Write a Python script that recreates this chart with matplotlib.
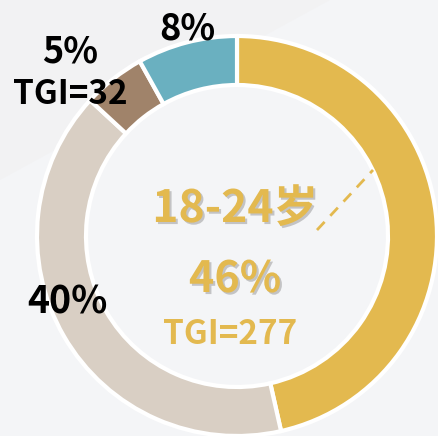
import matplotlib.pyplot as plt
import matplotlib.patheffects as pe
from matplotlib.patches import Polygon

plt.rcParams['font.family'] = ['Noto Sans CJK SC', 'DejaVu Sans']

# data
age_groups = ['18-24岁', '25-34岁', '35-44岁', '45岁以上']
shares = [46, 40, 5, 8]
share_labels = ['46%', '40%', '5%', '8%']
tgi_labels = ['TGI=277', '', 'TGI=32', '']

# colours
COLORS = ['#E3B94F', '#D9CFC4', '#A0836A', '#6AB0C0']
GOLD = '#E3B94F'
BG = '#F4F5F7'

W, H = 439, 436
fig = plt.figure(figsize=(W / 100, H / 100), dpi=100)
fig.patch.set_facecolor(BG)
ax = fig.add_axes([0, 0, 1, 1])
ax.set_xlim(0, W)
ax.set_ylim(0, H)
ax.set_aspect('equal')
ax.axis('off')


def py(y):
    # picture rows are counted from the top
    return H - y


# faint darker band in the top left corner
ax.add_patch(Polygon([(0, py(0)), (330, py(0)), (0, py(180))],
                     closed=True, facecolor='#F2F2F3', edgecolor='none', zorder=0))

cx, cy = 237, py(236)
wedges, _ = ax.pie(shares, colors=COLORS, startangle=90, counterclock=False,
                   radius=200, center=(cx, cy), frame=True,
                   wedgeprops=dict(width=49, edgecolor='white', linewidth=3))
ax.set_xlim(0, W)
ax.set_ylim(0, H)
ax.axis('off')

# dashed leader from the gold ring
ax.plot([317, 373], [py(230), py(170)], color=GOLD, lw=2, ls=(0, (4, 3)))

shadow = [pe.withSimplePatchShadow(offset=(1.5, -1.5), shadow_rgbFace='#888888', alpha=0.45)]

ax.text(235, py(209), age_groups[0], color=GOLD, fontsize=32, fontweight='bold',
        ha='center', va='center', path_effects=shadow)
ax.text(235, py(279), share_labels[0], color=GOLD, fontsize=31, fontweight='bold',
        ha='center', va='center', path_effects=shadow)
ax.text(230, py(334), tgi_labels[0], color=GOLD, fontsize=24, fontweight='bold',
        ha='center', va='center')

ax.text(187, py(29), share_labels[3], color='black', fontsize=26, fontweight='bold',
        ha='center', va='center')
ax.text(70, py(52), share_labels[2], color='black', fontsize=26, fontweight='bold',
        ha='center', va='center')
ax.text(70, py(94), tgi_labels[2], color='black', fontsize=24, fontweight='bold',
        ha='center', va='center')
ax.text(67, py(302), share_labels[1], color='black', fontsize=27, fontweight='bold',
        ha='center', va='center')

fig.savefig('out.png', dpi=100, facecolor=BG)
